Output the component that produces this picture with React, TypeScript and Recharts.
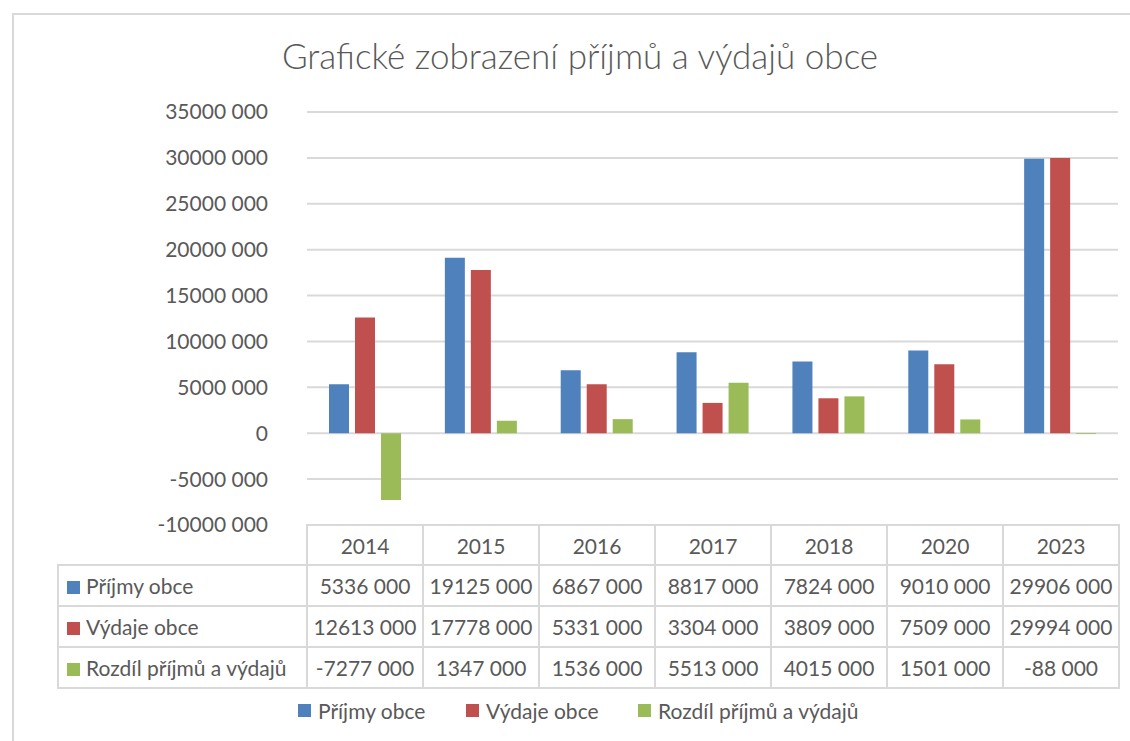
import React from 'react';
import { BarChart, Bar, XAxis, YAxis, CartesianGrid, Legend } from 'recharts';

const years = ['2014', '2015', '2016', '2017', '2018', '2020', '2023'];
const prijmy = [5336000, 19125000, 6867000, 8817000, 7824000, 9010000, 29906000];
const vydaje = [12613000, 17778000, 5331000, 3304000, 3809000, 7509000, 29994000];
const rozdil = [-7277000, 1347000, 1536000, 5513000, 4015000, 1501000, -88000];
const yTicks = [-10000000, -5000000, 0, 5000000, 10000000, 15000000, 20000000, 25000000, 30000000, 35000000];

const SERIES = [
    { key: 'prijmy', name: 'Příjmy obce', color: '#4F81BD', values: prijmy },
    { key: 'vydaje', name: 'Výdaje obce', color: '#C0504D', values: vydaje },
    { key: 'rozdil', name: 'Rozdíl příjmů a výdajů', color: '#9BBB59', values: rozdil },
];

const data = years.map((year, i) => ({
    year,
    prijmy: prijmy[i],
    vydaje: vydaje[i],
    rozdil: rozdil[i],
}));

const FONT = 'Lato, "Open Sans", sans-serif';
const TEXT = '#595959';
const LINE = '#D9D9D9';

// Czech style: "5336 000"
const fmt = (v: number) => (v === 0 ? '0' : `${Math.trunc(v / 1000)} 000`);

const cell: React.CSSProperties = {
    border: `2px solid ${LINE}`,
    padding: 0,
    textAlign: 'center',
    whiteSpace: 'nowrap',
};

const App: React.FC = () => {
    return (
        <div style={{ position: 'absolute', left: 0, top: 0, width: 1130, height: 741, background: '#fff', fontFamily: FONT, color: TEXT, overflow: 'hidden' }}>
            {/* chart frame */}
            <div style={{ position: 'absolute', left: 12, top: 13, width: 1140, height: 760, border: `2px solid ${LINE}` }} />

            <div style={{ position: 'absolute', left: 0, top: 34, width: 1160, textAlign: 'center', fontSize: 35, fontWeight: 300 }}>
                Grafické zobrazení příjmů a výdajů obce
            </div>

            <div style={{ position: 'absolute', left: 0, top: 0 }}>
                <BarChart
                    width={1130}
                    height={741}
                    data={data}
                    margin={{ top: 112, right: 12, bottom: 216, left: 0 }}
                    barCategoryGap={22}
                    barGap={6}
                >
                    <CartesianGrid vertical={false} stroke={LINE} strokeWidth={2} />
                    <XAxis dataKey="year" hide />
                    <YAxis
                        width={307}
                        domain={[-10000000, 35000000]}
                        ticks={yTicks}
                        interval={0}
                        axisLine={false}
                        tickLine={false}
                        tickSize={0}
                        tickMargin={39}
                        tickFormatter={fmt}
                        tick={{ fill: TEXT, fontSize: 21, fontFamily: FONT }}
                    />
                    {SERIES.map((s) => (
                        <Bar key={s.key} dataKey={s.key} name={s.name} fill={s.color} isAnimationActive={false} />
                    ))}
                    <Legend
                        content={() => (
                            <div style={{ position: 'absolute', left: 0, top: 698, width: 1130, height: 30 }}>
                                {SERIES.map((s, i) => (
                                    <div
                                        key={s.key}
                                        style={{ position: 'absolute', left: [298, 466, 638][i], top: 0, display: 'flex', alignItems: 'center', fontSize: 21, fontFamily: FONT, color: TEXT, whiteSpace: 'nowrap' }}
                                    >
                                        <span style={{ display: 'inline-block', width: 13, height: 13, background: s.color, marginRight: 7 }} />
                                        {s.name}
                                    </div>
                                ))}
                            </div>
                        )}
                        wrapperStyle={{ position: 'absolute', left: 0, top: 0, width: 0, height: 0 }}
                    />
                </BarChart>
            </div>

            {/* data table */}
            <table style={{ position: 'absolute', left: 57, top: 524, borderCollapse: 'collapse', fontSize: 21, fontFamily: FONT, color: TEXT, tableLayout: 'fixed' }}>
                <colgroup>
                    <col style={{ width: 249 }} />
                    {years.map((y) => <col key={y} style={{ width: 116 }} />)}
                </colgroup>
                <tbody>
                    <tr style={{ height: 40 }}>
                        <td style={{ ...cell, border: 'none', borderBottom: `2px solid ${LINE}` }} />
                        {years.map((y) => <td key={y} style={cell}>{y}</td>)}
                    </tr>
                    {SERIES.map((s) => (
                        <tr key={s.key} style={{ height: 41 }}>
                            <td style={{ ...cell, textAlign: 'left', paddingLeft: 8 }}>
                                <span style={{ display: 'inline-block', width: 13, height: 13, background: s.color, marginRight: 6 }} />
                                {s.name}
                            </td>
                            {s.values.map((v, i) => <td key={i} style={cell}>{fmt(v)}</td>)}
                        </tr>
                    ))}
                </tbody>
            </table>
        </div>
    );
};

export default App;
